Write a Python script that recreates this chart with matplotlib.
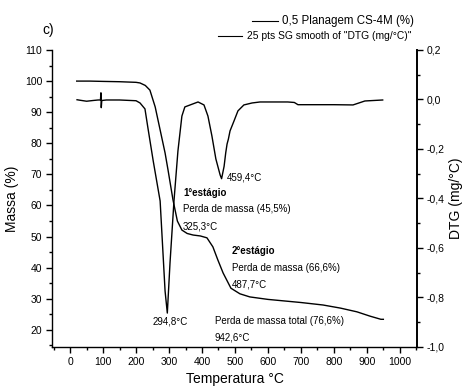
import matplotlib
matplotlib.use("Agg")
import matplotlib.pyplot as plt
from matplotlib.lines import Line2D
from matplotlib.ticker import MultipleLocator, FuncFormatter

plt.rcParams['font.family'] = ['Liberation Sans', 'DejaVu Sans']

# Thermogravimetric curve: temperature (°C) vs. residual mass (%)
tg_temp = [20, 60, 100, 150, 200, 212, 228, 242, 258, 273, 288, 297, 312,
           325.3, 339, 355, 373, 395, 415, 433, 448, 464, 487.7, 515, 545,
           600, 650, 700, 767, 820, 870, 910, 942.6, 950]
tg_mass = [100.0, 100.0, 99.9, 99.8, 99.6, 99.4, 98.6, 97.1, 91.7, 84.3,
           76.9, 71.4, 61.8, 55.0, 52.1, 51.0, 50.5, 50.2, 49.6, 46.7, 42.5,
           38.3, 33.4, 31.6, 30.6, 29.8, 29.3, 28.8, 28.0, 27.0, 25.8, 24.4,
           23.4, 23.4]

# Derivative curve (SG smoothed): temperature (°C) vs. DTG (mg/°C)
dtg_temp = [21, 30, 50, 70, 85, 92, 93.5, 94.5, 96, 110, 150, 200, 212, 227,
            236, 252, 273, 288, 294.8, 303, 315, 327, 339, 348, 364, 388,
            406, 418, 430, 442, 455, 459.4, 467, 472, 476, 480, 485, 497,
            509, 527, 552, 576, 660, 680, 691, 727, 800, 858, 894, 948]
dtg_val = [-0.001, -0.003, -0.007, -0.004, -0.002, -0.002, 0.027, -0.033,
           -0.004, -0.002, -0.002, -0.005, -0.014, -0.038, -0.115, -0.248,
           -0.41, -0.774, -0.863, -0.66, -0.41, -0.208, -0.067, -0.03,
           -0.022, -0.01, -0.022, -0.067, -0.147, -0.24, -0.305, -0.32,
           -0.27, -0.215, -0.18, -0.16, -0.127, -0.087, -0.046, -0.022,
           -0.014, -0.01, -0.01, -0.012, -0.021, -0.021, -0.021, -0.022,
           -0.006, -0.002]

x_ticks = [0, 100, 200, 300, 400, 500, 600, 700, 800, 900, 1000]
mass_ticks = [20, 30, 40, 50, 60, 70, 80, 90, 100, 110]
dtg_ticks = [-1.0, -0.8, -0.6, -0.4, -0.2, 0.0, 0.2]

legend_labels = ["0,5 Planagem CS-4M (%)", "25 pts SG smooth of \"DTG (mg/°C)\""]

fig = plt.figure(figsize=(4.67, 3.90), dpi=100)
ax = fig.add_axes([0.1113, 0.1103, 0.7816, 0.7615])
ax2 = ax.twinx()

ax.plot(tg_temp, tg_mass, color='black', lw=1.0)
ax2.plot(dtg_temp, dtg_val, color='black', lw=1.0)

ax.set_xlim(-55, 1052)
ax.set_ylim(14.5, 110)
ax2.set_ylim(-1.0, 0.2)

ax.set_xticks(x_ticks)
ax.set_yticks(mass_ticks)
ax2.set_yticks(dtg_ticks)
ax.xaxis.set_minor_locator(MultipleLocator(50))
ax.yaxis.set_minor_locator(MultipleLocator(5))
ax2.yaxis.set_minor_locator(MultipleLocator(0.1))
ax2.yaxis.set_major_formatter(FuncFormatter(lambda v, p: f"{v:.1f}".replace('.', ',').replace('-0,0', '0,0')))

for a in (ax, ax2):
    a.tick_params(which='major', direction='out', length=4.5, width=1.0,
                  labelsize=7.5, pad=2.5)
    a.tick_params(which='minor', direction='out', length=2.5, width=1.0)
    a.spines['top'].set_visible(False)
ax.spines['right'].set_visible(False)
ax2.spines['left'].set_visible(False)
ax2.spines['bottom'].set_visible(False)
ax2.spines['right'].set_linewidth(1.4)
ax.spines['left'].set_linewidth(1.0)
ax.spines['bottom'].set_linewidth(1.0)

ax.set_xlabel("Temperatura °C", fontsize=10, labelpad=4)
ax.set_ylabel("Massa (%)", fontsize=10, labelpad=4)
ax2.set_ylabel("DTG (mg/°C)", fontsize=10, labelpad=3)

# Annotations
fs = 7
ax.text(302, 22.6, "294,8°C", fontsize=fs, ha='center', va='center')
ax.text(476, 68.9, "459,4°C", fontsize=fs, ha='left', va='center')
ax.text(342, 64.0, "1°estágio", fontsize=fs, ha='left', va='center', fontweight='bold')
ax.text(342, 58.9, "Perda de massa (45,5%)", fontsize=fs, ha='left', va='center')
ax.text(342, 53.4, "325,3°C", fontsize=fs, ha='left', va='center')
ax.text(491, 45.4, "2°estágio", fontsize=fs, ha='left', va='center', fontweight='bold')
ax.text(491, 39.9, "Perda de massa (66,6%)", fontsize=fs, ha='left', va='center')
ax.text(491, 34.5, "487,7°C", fontsize=fs, ha='left', va='center')
ax.text(439, 22.9, "Perda de massa total (76,6%)", fontsize=fs, ha='left', va='center')
ax.text(439, 17.7, "942,6°C", fontsize=fs, ha='left', va='center')

# Panel tag and series key
fig.text(42 / 467, 1 - 30 / 390, "c)", fontsize=10, ha='left', va='center')
W, H = 467.0, 390.0
fig.add_artist(Line2D([252 / W, 278 / W], [1 - 21 / H, 1 - 21 / H],
                      color='black', lw=0.8, transform=fig.transFigure))
fig.text(282 / W, 1 - 21 / H, legend_labels[0], fontsize=8.3, ha='left', va='center')
fig.add_artist(Line2D([218 / W, 242 / W], [1 - 35.5 / H, 1 - 35.5 / H],
                      color='black', lw=0.8, transform=fig.transFigure))
fig.text(247 / W, 1 - 36 / H, legend_labels[1], fontsize=7.4, ha='left', va='center')

fig.savefig("out.png", dpi=100)
